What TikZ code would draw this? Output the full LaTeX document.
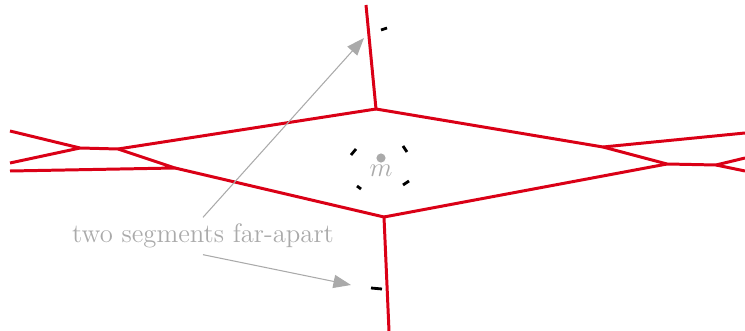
\documentclass[tikz,border=0pt]{standalone}
\usepackage{amsmath}
\usepackage{xcolor}
\usetikzlibrary{arrows.meta}
\usetikzlibrary{positioning}

\definecolor{edgered}{RGB}{218,0,22}
\definecolor{notegray}{RGB}{170,170,170}

\tikzset{
  edge/.style={edgered, line width=1.7pt},
  seg/.style={black, line width=1.6pt},
  note/.style={notegray, line width=0.6pt, -{Triangle[length=10pt,width=7.5pt]}},
  notetext/.style={notegray, font=\Large, scale=1.055},
}

\begin{document}
\begin{tikzpicture}[x=0.02cm, y=-0.02cm]
  \useasboundingbox (0,0) rectangle (745,331);

  % vertices of the red graph
  \coordinate (t0) at (366,5);
  \coordinate (t) at (376,109);
  \coordinate (b) at (384,217);
  \coordinate (b0) at (389,331);
  \coordinate (l1) at (118,149);
  \coordinate (l2) at (80,148);
  \coordinate (l3) at (175,168);
  \coordinate (la) at (10,131);
  \coordinate (lb) at (10,163);
  \coordinate (lc) at (10,171);
  \coordinate (r1) at (603,147);
  \coordinate (r2) at (667,164);
  \coordinate (r3) at (716,165);
  \coordinate (ra) at (745,133);
  \coordinate (rb) at (745,158);
  \coordinate (rc) at (745,171);

  \draw[edge] (t0) -- (t) -- (r1) -- (ra);
  \draw[edge] (t) -- (l1) -- (l2) -- (la);
  \draw[edge] (l2) -- (lb);
  \draw[edge] (l1) -- (l3) -- (lc);
  \draw[edge] (l3) -- (b) -- (b0);
  \draw[edge] (b) -- (r2) -- (r3) -- (rb);
  \draw[edge] (r1) -- (r2);
  \draw[edge] (r3) -- (rc);

  % short segments
  \draw[seg] (381,30) -- (387,28);
  \draw[seg] (351,155) -- (356,149);
  \draw[seg] (403,146) -- (407,152);
  \draw[seg] (357,186) -- (361,189);
  \draw[seg] (403,185) -- (409,181);
  \draw[seg] (371,288) -- (382,289);

  % the point m
  \fill[notegray] (381,158) circle (2.6pt);
  \node[notetext] (m) at (381,171) {$m$};

  % annotation
  \node[notetext] (lbl) at (203,236) {two segments far-apart};
  \coordinate (tipa) at (364,38);
  \coordinate (tipb) at (351,285);
  \draw[note] (lbl.north) -- (tipa);
  \draw[note] (lbl.south) -- (tipb);
\end{tikzpicture}
\end{document}
